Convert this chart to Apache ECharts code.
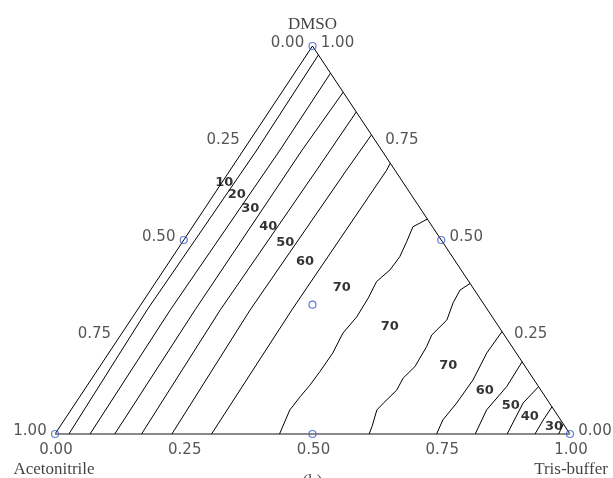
<!DOCTYPE html>
<html>
<head>
<meta charset="utf-8">
<script src="https://cdn.jsdelivr.net/npm/echarts@6/dist/echarts.min.js"></script>
<style>html,body{margin:0;padding:0;background:#fff}#c{width:613px;height:478px}</style>
</head>
<body>
<div id="c"></div>
<script>
// Ternary compositions given as [Tris-buffer fraction, DMSO fraction]; Acetonitrile = 1 - both
const vertexNames = ['Acetonitrile', 'Tris-buffer', 'DMSO'];
const ticks = [0, 0.25, 0.5, 0.75, 1];
const tickLabels = ['0.00', '0.25', '0.50', '0.75', '1.00'];
const designPoints = [[0,0],[1,0],[0,1],[0.5,0],[0.5,0.5],[0,0.5],[0.3333,0.3333]];

const line10 = [[0.027,0],[0.019,0.320],[0.026,0.732],[0.023,0.977]];
const line20 = [[0.068,0],[0.064,0.320],[0.071,0.732],[0.070,0.930]];
const line30 = [[0.116,0],[0.112,0.320],[0.114,0.732],[0.119,0.881]];
const line40 = [[0.168,0],[0.161,0.320],[0.168,0.680],[0.170,0.830]];
const line50 = [[0.227,0],[0.219,0.320],[0.226,0.680],[0.229,0.771]];
const line60 = [[0.304,0],[0.300,0.320],[0.304,0.680],[0.302,0.698]];
const line70a = [[0.436,0],[0.425,0.062],[0.428,0.096],[0.432,0.126],[0.434,0.161],[0.435,0.209],[0.429,0.260],[0.435,0.302],[0.433,0.351],[0.428,0.393],[0.439,0.423],[0.441,0.457],[0.435,0.496],[0.428,0.534],[0.446,0.554]];
const line70b = [[0.610,0],[0.606,0.019],[0.594,0.062],[0.598,0.080],[0.607,0.113],[0.604,0.144],[0.612,0.174],[0.609,0.225],[0.604,0.255],[0.614,0.294],[0.604,0.338],[0.601,0.371],[0.612,0.388]];
const line60r = [[0.741,0],[0.735,0.036],[0.740,0.080],[0.742,0.139],[0.734,0.209],[0.736,0.264]];
const line50r = [[0.816,0],[0.807,0.062],[0.816,0.122],[0.814,0.186]];
const line40r = [[0.878,0],[0.869,0.080],[0.878,0.122]];
const line30r = [[0.932,0],[0.930,0.036],[0.930,0.070]];
const line20r = [[0.978,0],[0.974,0.026]];
const contourLines = [line10,line20,line30,line40,line50,line60,line70a,line70b,line60r,line50r,line40r,line30r,line20r];

const contourLabelTexts = ['10','20','30','40','50','60','70','70','70','60','50','40','30'];
const contourLabelPoints = [[0.005,0.647],[0.045,0.616],[0.089,0.580],[0.147,0.534],[0.201,0.492],[0.264,0.443],[0.369,0.376],[0.511,0.278],[0.676,0.175],[0.778,0.113],[0.849,0.072],[0.900,0.044],[0.960,0.018]];

function toXY(p){ return [p[0] + p[1]/2, p[1]]; }

const chart = echarts.init(document.getElementById('c'));
const series = [];

// triangle edges
series.push({type:'line', data:[toXY([0,0]),toXY([0,1]),toXY([1,0])], symbol:'none', clip:false, silent:true,
  lineStyle:{color:'#000', width:1}, z:2});
series.push({type:'line', data:[toXY([0,0]),toXY([1,0])], symbol:'none', clip:false, silent:true,
  lineStyle:{color:'#8a8a8a', width:2}, z:2});

contourLines.forEach(l => series.push({type:'line', data:l.map(toXY), symbol:'none', clip:false, silent:true,
  lineStyle:{color:'#000', width:1}, z:3}));

series.push({type:'scatter', data:designPoints.map(toXY), symbol:'circle', symbolSize:7, clip:false, silent:true,
  itemStyle:{color:'rgba(0,0,0,0)', borderColor:'#3b5bd0', borderWidth:1.2}, z:5});

series.push({type:'scatter', symbolSize:1, clip:false, silent:true, itemStyle:{color:'rgba(0,0,0,0)'}, z:6,
  data: contourLabelPoints.map((p,i)=>({value:toXY(p), name:contourLabelTexts[i]})),
  label:{show:true, position:'inside', formatter:'{b}', color:'#000', fontFamily:'DejaVu Sans', fontWeight:'bold', fontSize:13}});

const tickLabelStyle = {show:true, position:'inside', formatter:'{b}', color:'#2a2a2a', fontFamily:'DejaVu Sans', fontSize:15};
// left edge: Acetonitrile fraction
series.push({type:'scatter', symbolSize:1, clip:false, silent:true, itemStyle:{color:'rgba(0,0,0,0)'}, z:6,
  data: ticks.map((v,i)=>({value:toXY([0,1-v]), name:tickLabels[i]})),
  label:Object.assign({}, tickLabelStyle, {offset:[-25,-3]})});
// right edge: DMSO fraction
series.push({type:'scatter', symbolSize:1, clip:false, silent:true, itemStyle:{color:'rgba(0,0,0,0)'}, z:6,
  data: ticks.map((v,i)=>({value:toXY([1-v,v]), name:tickLabels[i]})),
  label:Object.assign({}, tickLabelStyle, {offset:[25,-3]})});
// bottom edge: Tris-buffer fraction
series.push({type:'scatter', symbolSize:1, clip:false, silent:true, itemStyle:{color:'rgba(0,0,0,0)'}, z:6,
  data: ticks.map((v,i)=>({value:toXY([v,0]), name:tickLabels[i]})),
  label:Object.assign({}, tickLabelStyle, {offset:[1,16.5]})});

// vertex names
const nameStyle = {show:true, position:'inside', formatter:'{b}', color:'#111', fontFamily:'Liberation Serif', fontSize:17};
series.push({type:'scatter', symbolSize:1, clip:false, silent:true, itemStyle:{color:'rgba(0,0,0,0)'}, z:6,
  data:[
    {value:toXY([0,0]), name:vertexNames[0], label:{offset:[-1,36]}},
    {value:toXY([1,0]), name:vertexNames[1], label:{offset:[1,36]}},
    {value:toXY([0,1]), name:vertexNames[2], label:{offset:[0,-21]}},
    {value:toXY([0.5,0]), name:'(b)', label:{offset:[0,48]}}
  ],
  label:nameStyle});

chart.setOption({
  animation:false,
  backgroundColor:'#fff',
  grid:{left:55, top:46, width:515, height:388},
  xAxis:{type:'value', min:0, max:1, show:false},
  yAxis:{type:'value', min:0, max:1, show:false},
  series
});
</script>
</body>
</html>
